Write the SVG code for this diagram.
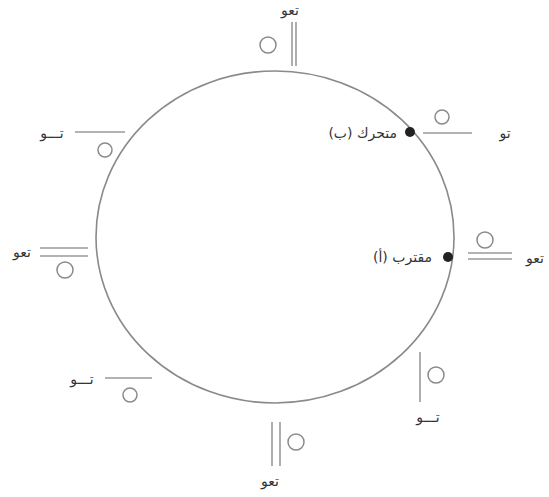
<svg xmlns="http://www.w3.org/2000/svg" width="549" height="497" viewBox="0 0 549 497">
<style>
.c{fill:none;stroke:#8a8a8a;stroke-width:1.6}
.ln{stroke:#9a9a9a;stroke-width:1.6;fill:none}
.sc{fill:none;stroke:#8a8a8a;stroke-width:1.5}
.t{font-family:"DejaVu Sans",sans-serif;font-size:14px;fill:#333}
.dot{fill:#222}
</style>
<rect width="549" height="497" fill="#fff"/>
<g id="main-circle"><ellipse class="c" cx="275" cy="237" rx="179" ry="166"/></g>
<g id="connectors">
<line class="ln" x1="292" y1="22" x2="292" y2="66"/>
<line class="ln" x1="296" y1="22" x2="296" y2="66"/>
<line class="ln" x1="423" y1="133" x2="472" y2="133"/>
<line class="ln" x1="75" y1="132" x2="125" y2="132"/>
<line class="ln" x1="40" y1="248" x2="88" y2="248"/>
<line class="ln" x1="40" y1="256" x2="88" y2="256"/>
<line class="ln" x1="468" y1="253" x2="512" y2="253"/>
<line class="ln" x1="468" y1="259" x2="512" y2="259"/>
<line class="ln" x1="105" y1="378" x2="152" y2="378"/>
<line class="ln" x1="420" y1="352" x2="420" y2="402"/>
<line class="ln" x1="272" y1="422" x2="272" y2="466"/>
<line class="ln" x1="280" y1="422" x2="280" y2="466"/>
</g>
<g id="top"><circle class="sc" cx="268" cy="45" r="8"/><text class="t" x="290" y="15" text-anchor="middle">تعو</text></g>
<g id="upper-right"><circle class="sc" cx="442" cy="117" r="7"/><text class="t" x="505" y="138" text-anchor="middle">تو</text></g>
<g id="point-b"><circle class="dot" cx="410" cy="132" r="5"/><text class="t" x="397" y="138" text-anchor="end">(ب) متحرك</text></g>
<g id="upper-left"><circle class="sc" cx="105" cy="150" r="7"/><text class="t" x="52" y="138" text-anchor="middle">تـــو</text></g>
<g id="left"><circle class="sc" cx="65" cy="270" r="8"/><text class="t" x="22" y="257" text-anchor="middle">تعو</text></g>
<g id="point-a"><circle class="dot" cx="448" cy="257" r="5"/><text class="t" x="432" y="262" text-anchor="end">(أ) مقترب</text></g>
<g id="right"><circle class="sc" cx="485" cy="240" r="8"/><text class="t" x="535" y="263" text-anchor="middle">تعو</text></g>
<g id="lower-left"><circle class="sc" cx="130" cy="395" r="7"/><text class="t" x="82" y="384" text-anchor="middle">تـــو</text></g>
<g id="lower-right"><circle class="sc" cx="436" cy="375" r="8"/><text class="t" x="428" y="422" text-anchor="middle">تـــو</text></g>
<g id="bottom"><circle class="sc" cx="296" cy="442" r="8"/><text class="t" x="270" y="486" text-anchor="middle">تعو</text></g>
</svg>
